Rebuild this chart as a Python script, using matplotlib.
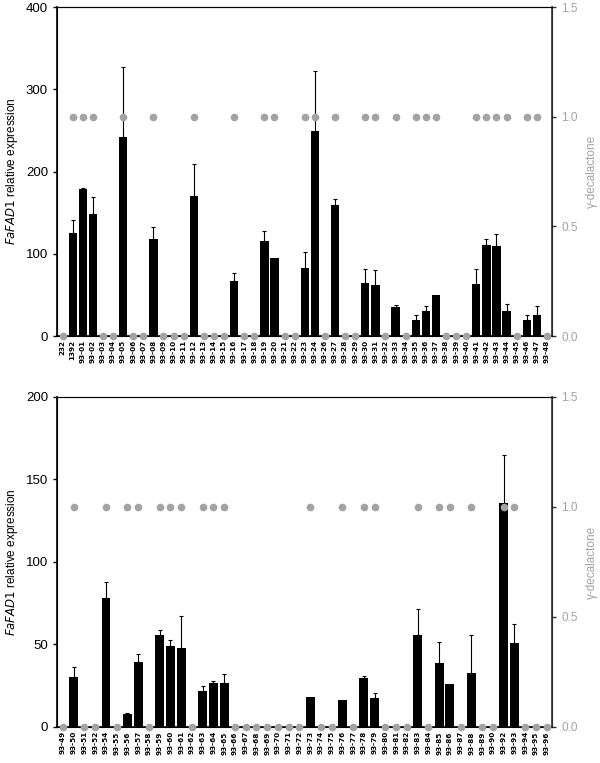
import numpy as np
import matplotlib
matplotlib.use('Agg')
import matplotlib.pyplot as plt

plt.rcParams['font.family'] = ['Liberation Sans', 'DejaVu Sans']

# top panel
topLabels = ['232', '1392'] + ['93-%02d' % i for i in range(1, 25)] + ['93-%02d' % i for i in range(26, 49)]
topExpr = [0, 125, 179, 148, 0, 0, 242, 0, 0, 118, 0, 0, 0, 170, 0, 0, 0, 67, 0, 0, 115, 94.5, 0, 0, 83, 249,
           0, 159, 0, 0, 64.5, 62, 0, 35, 0, 19.5, 31, 50, 0, 0, 0, 63, 111, 109, 30, 0, 19.5, 26, 0]
topErr = [0, 16, 1, 21, 0, 0, 85, 0, 0, 14, 0, 0, 0, 39, 0, 0, 0, 10, 0, 0, 13, 0, 0, 0, 19, 73,
          0, 8, 0, 0, 17.5, 18, 0, 3, 0, 5.5, 5, 0, 0, 0, 0, 19, 7, 15, 9, 0, 6, 11, 0]
topLact = [0, 1, 1, 1, 0, 0, 1, 0, 0, 1, 0, 0, 0, 1, 0, 0, 0, 1, 0, 0, 1, 1, 0, 0, 1, 1,
           0, 1, 0, 0, 1, 1, 0, 1, 0, 1, 1, 1, 0, 0, 0, 1, 1, 1, 1, 0, 1, 1, 0]

# bottom panel
botLabels = ['93-%02d' % i for i in range(49, 97) if i not in (53, 91)]
botExpr = [0, 30, 0, 0, 78.3, 0, 7.9, 39.5, 0, 56, 48.8, 48, 0, 21.7, 26.5, 26.5, 0, 0, 0, 0, 0, 0, 0, 18.2,
           0, 0, 16.6, 0, 29.6, 17.4, 0, 0, 0, 55.7, 0, 38.7, 26.3, 0, 32.6, 0, 0, 135.6, 50.6, 0, 0, 0]
botErr = [0, 6.4, 0, 0, 9.7, 0, 0.8, 5, 0, 3, 4.2, 19, 0, 3.3, 1.5, 5.9, 0, 0, 0, 0, 0, 0, 0, 0,
          0, 0, 0, 0, 1.2, 3.5, 0, 0, 0, 15.6, 0, 12.9, 0, 0, 23.4, 0, 0, 29.4, 11.9, 0, 0, 0]
botLact = [0, 1, 0, 0, 1, 0, 1, 1, 0, 1, 1, 1, 0, 1, 1, 1, 0, 0, 0, 0, 0, 0, 0, 1,
           0, 0, 1, 0, 1, 1, 0, 0, 0, 1, 0, 1, 1, 0, 1, 0, 0, 1, 1, 0, 0, 0]

gray = '#a3a3a3'

# Draws one panel: bars with upward error bars, and lactone dots on a twin axis
def plotPanel(ax, labels, expr, err, lact, ymax):
    x = np.arange(len(labels))
    expr = np.array(expr)
    err = np.array(err)
    ax.bar(x, expr, width=0.82, color='black', zorder=2)
    mask = err > 0
    ax.errorbar(x[mask], expr[mask], yerr=[np.zeros(mask.sum()), err[mask]],
                fmt='none', ecolor='black', elinewidth=0.8, capsize=1.5, capthick=0.8, zorder=3)
    ax.set_xlim(-0.55, len(labels) - 0.5)
    ax.set_ylim(0, ymax)
    ax.set_yticks(np.linspace(0, ymax, 5))
    ax.tick_params(axis='y', labelsize=9.5, length=3, width=1)
    ax.set_xticks(x)
    ax.set_xticklabels(labels, rotation=90, fontsize=5.2, fontweight='bold', family='DejaVu Sans')
    ax.tick_params(axis='x', length=0, pad=3)
    ax.set_ylabel('$\\it{FaFAD1}$ relative expression', fontsize=8.5)
    for s in ['left', 'bottom']:
        ax.spines[s].set_linewidth(1.2)
    ax.spines['top'].set_color('#333333')

    ax2 = ax.twinx()
    ax2.plot(x, lact, 'o', color=gray, markersize=5.5, markeredgewidth=0, clip_on=False, zorder=5)
    ax2.set_ylim(0, 1.5)
    ax2.set_yticks([0, 0.5, 1.0, 1.5])
    ax2.set_yticklabels(['0.0', '0.5', '1.0', '1.5'])
    ax2.tick_params(axis='y', labelsize=8.5, labelcolor=gray, length=3, width=1, color='#333333')
    ax2.spines['right'].set_color('#333333')
    ax2.spines['right'].set_linewidth(1.2)
    ax2.set_ylabel('γ-decalactone', color=gray, fontsize=8.5, labelpad=6)

fig = plt.figure(figsize=(6, 7.63), dpi=100)
axTop = fig.add_axes([0.095, 0.5596, 0.825, 0.4312])
axBot = fig.add_axes([0.095, 0.0472, 0.825, 0.4325])
plotPanel(axTop, topLabels, topExpr, topErr, topLact, 400)
plotPanel(axBot, botLabels, botExpr, botErr, botLact, 200)
axTop.yaxis.set_label_coords(-0.075, 0.5)
axBot.yaxis.set_label_coords(-0.075, 0.5)

plt.savefig('out.png', dpi=100)
